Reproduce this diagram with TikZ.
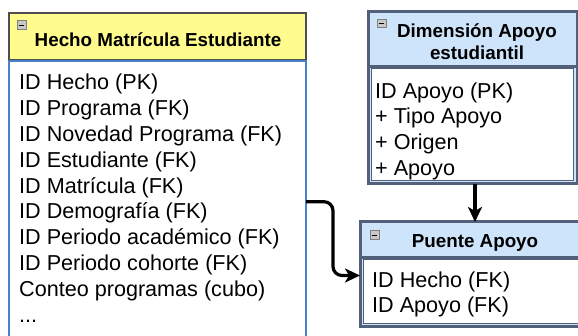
\documentclass[tikz,border=0pt]{standalone}
\usepackage{fontspec}
\setmainfont{Liberation Sans}
\usetikzlibrary{arrows.meta}
\definecolor{hyellow}{RGB}{255,251,140}
\definecolor{hblue}{RGB}{206,228,250}
\definecolor{slate}{RGB}{82,96,122}
\definecolor{bblue}{RGB}{74,128,200}
\definecolor{hgray}{RGB}{78,78,78}
\definecolor{icongray}{RGB}{200,200,200}
\begin{document}
\begin{tikzpicture}[x=1pt,y=-1pt,
  box/.style={rectangle,anchor=north west,inner sep=0pt,outer sep=0pt},
  txt/.style={anchor=base west,inner sep=0pt,font=\fontsize{21.6}{25}\selectfont},
  ttl/.style={anchor=base,inner sep=0pt,font=\bfseries\fontsize{18.8}{22}\selectfont},
  icon/.style={rectangle,anchor=north west,inner sep=0pt,minimum width=9,minimum height=8.5,draw=gray,fill=icongray,line width=0.8pt},
  conn/.style={line width=3.2pt,black,rounded corners=9pt,-{Stealth[length=15pt,width=14pt,inset=4pt]}}]
\useasboundingbox (0,0) rectangle (578,336);
\clip (0,0) rectangle (578,336);
\fill[white] (0,0) rectangle (578,336);

% Left box: Hecho Matricula Estudiante
\node[box,draw=hgray,line width=2pt,fill=hyellow,minimum width=297,minimum height=47] (hhead) at (9,13) {};
\node[box,draw=bblue,line width=2pt,fill=white,minimum width=297,minimum height=320] (hbody) at (9,61.5) {};
\node[icon] (hicon) at (16.5,20.5) {};
\draw[black,line width=1.2pt] ([xshift=2pt]hicon.west) -- ([xshift=-2pt]hicon.east);
\node[ttl] (htitle) at (158,46.7) {Hecho Matrícula Estudiante};
\node[txt] (h1) at (19,89.5) {ID Hecho (PK)};
\node[txt] (h2) at (19,115.4) {ID Programa (FK)};
\node[txt] (h3) at (19,141.3) {ID Novedad Programa (FK)};
\node[txt] (h4) at (19,167.2) {ID Estudiante (FK)};
\node[txt] (h5) at (19,193.1) {ID Matrícula (FK)};
\node[txt] (h6) at (19,219.0) {ID Demografía (FK)};
\node[txt] (h7) at (19,244.9) {ID Periodo académico (FK)};
\node[txt] (h8) at (19,270.8) {ID Periodo cohorte (FK)};
\node[txt] (h9) at (19,296.7) {Conteo programas (cubo)};
\node[txt] (h10) at (19,322.6) {...};

% Dimension Apoyo estudiantil
\node[box,draw=slate,line width=3pt,fill=hblue,minimum width=209,minimum height=172] (dframe) at (368,12) {};
\draw[slate,line width=2.5pt] (dframe.west |- 0,66.7) -- (dframe.east |- 0,66.7);
\node[box,draw=slate,line width=1pt,fill=white,minimum width=202,minimum height=112] (dbody) at (371.5,68.5) {};
\node[icon] (dicon) at (376.5,19) {};
\draw[black,line width=1.2pt] ([xshift=2pt]dicon.west) -- ([xshift=-2pt]dicon.east);
\node[ttl] (dtitle1) at (477,37.5) {Dimensión Apoyo};
\node[ttl] (dtitle2) at (477,59.5) {estudiantil};
\node[txt] (d1) at (375,98.3) {ID Apoyo (PK)};
\node[txt] (d2) at (375,123.9) {+ Tipo Apoyo};
\node[txt] (d3) at (375,149.5) {+ Origen};
\node[txt] (d4) at (375,175.1) {+ Apoyo};

% Puente Apoyo
\node[box,draw=slate,line width=3pt,fill=hblue,minimum width=260,minimum height=105] (pframe) at (360,222) {};
\draw[slate,line width=2.5pt] (pframe.west |- 0,257.5) -- (pframe.east |- 0,257.5);
\node[box,draw=slate,line width=1pt,fill=white,minimum width=250,minimum height=64.5] (pbody) at (363.5,259.5) {};
\node[icon] (picon) at (369.5,230.5) {};
\draw[black,line width=1.2pt] ([xshift=2pt]picon.west) -- ([xshift=-2pt]picon.east);
\node[ttl] (ptitle) at (475,247.7) {Puente Apoyo};
\node[txt] (p1) at (372,287.3) {ID Hecho (FK)};
\node[txt] (p2) at (372,312.3) {ID Apoyo (FK)};

% Connectors
\draw[conn] (hbody.east |- 0,201.7) -- (333,201.7) -- (333,275.5) -- (pframe.west |- 0,275.5);
\draw[conn] (dframe.south -| 475,0) -- (pframe.north -| 475,0);
\end{tikzpicture}
\end{document}
